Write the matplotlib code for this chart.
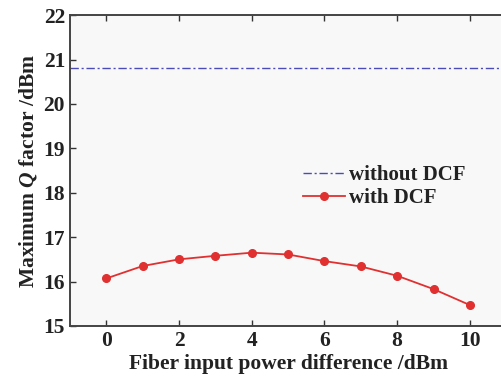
import matplotlib
matplotlib.use("Agg")
import matplotlib.pyplot as plt

# data
power_diff = [0, 1, 2, 3, 4, 5, 6, 7, 8, 9, 10]
q_with_dcf = [16.07, 16.35, 16.50, 16.58, 16.65, 16.61, 16.46, 16.34, 16.13, 15.83, 15.47]
q_without_dcf = 20.8

plt.rcParams['font.family'] = ['Liberation Serif', 'DejaVu Serif']
plt.rcParams['mathtext.fontset'] = 'custom'
plt.rcParams['mathtext.it'] = 'Liberation Serif:italic:bold'

fig = plt.figure(figsize=(5.02, 3.79), dpi=100)
# right side of the frame runs past the image edge, as in the reference
ax = fig.add_axes([0.1394, 0.14, 0.869, 0.82])
ax.set_facecolor('#f8f8f8')

ax.axhline(q_without_dcf, color='#4a4ab8', lw=1.0, ls='-.', dashes=(6, 2, 1.5, 2),
           label='without DCF')
ax.plot(power_diff, q_with_dcf, color='#e03030', lw=1.3, marker='o', ms=5.5,
        label='with DCF')

ax.set_xlim(-1, 11)
ax.set_ylim(15, 22)
ax.set_xticks([0, 2, 4, 6, 8, 10])
ax.set_yticks(range(15, 23))

ax.tick_params(direction='in', top=True, right=False, labelsize=15.5, length=4,
               width=1, colors='#333333', labelcolor='#222222')
for sp in ax.spines.values():
    sp.set_color('#444444')
    sp.set_linewidth(1.4)
ax.spines['right'].set_visible(False)

for lab in ax.get_xticklabels() + ax.get_yticklabels():
    lab.set_fontweight('bold')

ax.set_xlabel('Fiber input power difference /dBm', fontsize=15.5, fontweight='bold',
              color='#222222', labelpad=2)
ax.set_ylabel('Maximum $Q$ factor /dBm', fontsize=15.5, fontweight='bold',
              color='#222222', labelpad=3)

leg = ax.legend(loc='upper left', bbox_to_anchor=(0.515, 0.545), frameon=False,
                fontsize=15, handlelength=2.0, handletextpad=0.2,
                labelspacing=0.15, borderaxespad=0)
for t in leg.get_texts():
    t.set_fontweight('bold')
    t.set_color('#222222')

fig.savefig('out.png', dpi=100)
